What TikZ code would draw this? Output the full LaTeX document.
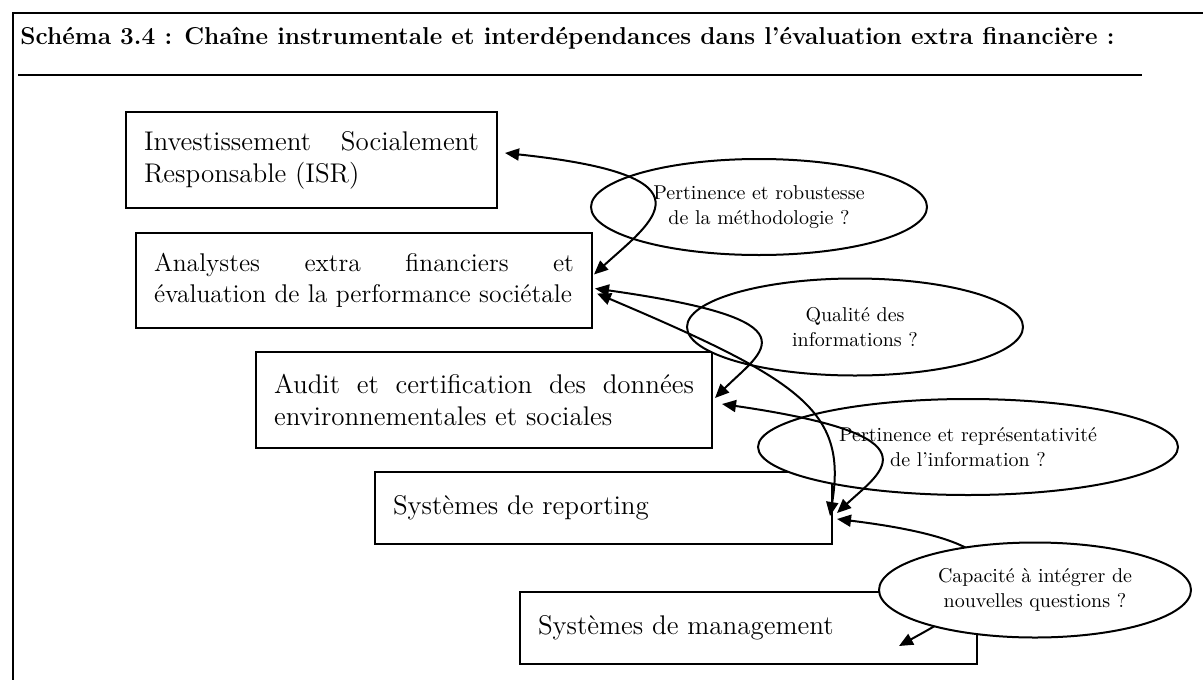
\documentclass[tikz,border=0pt]{standalone}
\usepackage{fontspec}
\usetikzlibrary{positioning, shapes.geometric, arrows.meta}

\hyphenpenalty=10000
\tolerance=10000

\tikzset{
    etage/.style={
        draw,
        line width=1pt,
        anchor=north west,
        inner xsep=9pt,
        text width=#1,
        align=justify,
        font=\fontsize{13.5}{16}\selectfont},
    question/.style={
        draw,
        ellipse,
        line width=1pt,
        fill=white,
        inner sep=0pt,
        align=center,
        font=\fontsize{10}{12.5}\selectfont},
    lien/.style={
        line width=1pt,
        {Triangle[length=7pt,width=6pt]}-{Triangle[length=7pt,width=6pt]}}
}

\begin{document}
\begin{tikzpicture}[x=0.5pt, y=-0.5pt]
    \useasboundingbox (0,0) rectangle (1203,680);

    % cadre et titre
    \draw[line width=1.2pt] (1203,13) -- (13,13) -- (13,680);
    \node[anchor=base west, inner sep=0pt,
        font=\bfseries\fontsize{12.2}{14}\selectfont] (titre) at (20,44)
        {Schéma 3.4 : Chaîne instrumentale et interdépendances dans l’évaluation extra financière :};
    \draw[line width=1pt] (18,75) -- (1142,75);

    % les etages de la chaine
    \node[etage=167.5pt, minimum height=48pt] (isr) at (125,111)
        {Investissement Socialement Responsable (ISR)};
    \node[etage=210pt, minimum height=47.5pt,
        font=\fontsize{12.8}{15.5}\selectfont] (analystes) at (135,232)
        {Analystes extra financiers et\linebreak évaluation de la performance sociétale};
    \node[etage=210pt, minimum height=48pt] (audit) at (255,351)
        {Audit et certification des données environnementales et sociales};
    \node[etage=210.5pt, minimum height=36pt] (reporting) at (374,471)
        {Systèmes de reporting};
    \node[etage=210.5pt, minimum height=36pt] (management) at (519,591)
        {Systèmes de management};

    % les questions
    \node[question, minimum width=168pt, minimum height=48pt] (methodo) at (759,207)
        {Pertinence et robustesse\\de la méthodologie ?};
    \node[question, minimum width=168pt, minimum height=48.5pt] (qualite) at (855,327)
        {Qualité des\\informations ?};
    \node[question, minimum width=210pt, minimum height=48pt] (represent) at (968,447)
        {Pertinence et représentativité\\de l’information ?};

    % les interdependances
    \draw[lien] ([shift={(7,-7)}]isr.east)
        .. controls +(217,23) and +(58,-53) .. ([shift={(1,-6)}]analystes.east);
    \draw[lien] ([shift={(2,8)}]analystes.east)
        .. controls +(227,32) and +(47,-47) .. ([shift={(2,-2)}]audit.east);
    \draw[lien] ([shift={(4,13)}]analystes.east)
        .. controls +(205,87) and +(17,-105) .. ([shift={(-3,8)}]reporting.east);
    \draw[lien] ([shift={(9,4)}]audit.east)
        .. controls +(220,32) and +(45,-42) .. ([shift={(4,5)}]reporting.east);
    \draw[lien] ([shift={(4,11)}]reporting.east)
        .. controls +(245,30) and +(63,-35) .. ([shift={(-79,18)}]management.east);

    \node[question, minimum width=156pt, minimum height=47.5pt] (capacite) at (1035,590)
        {Capacité à intégrer de\\nouvelles questions ?};
\end{tikzpicture}
\end{document}
